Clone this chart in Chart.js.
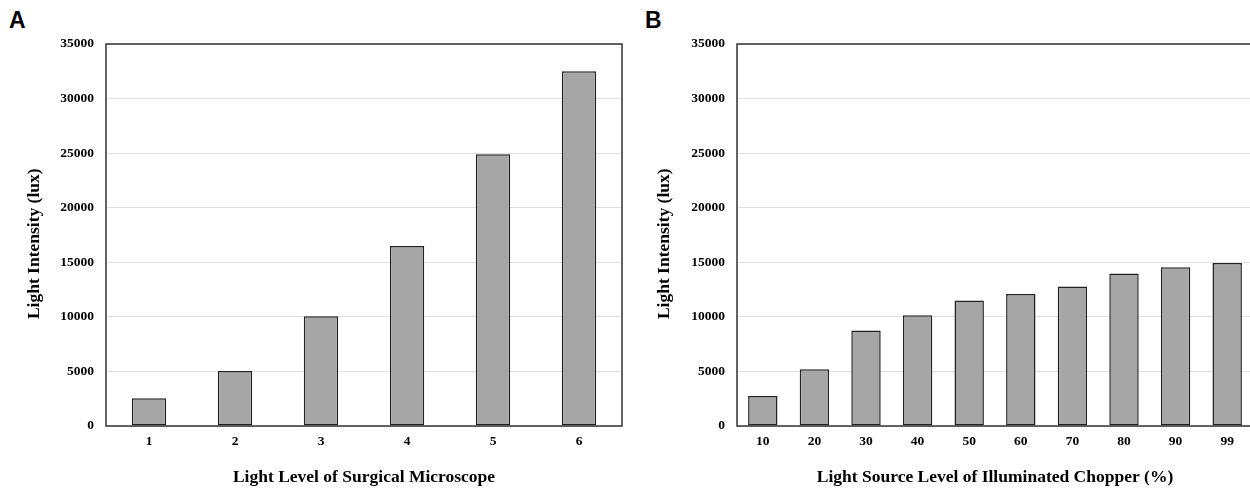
<!DOCTYPE html>
<html>
<head>
<meta charset="utf-8">
<script src="https://cdn.jsdelivr.net/npm/chart.js@4/dist/chart.umd.min.js"></script>
<style>
  html, body { margin: 0; padding: 0; background: #fff; }
  body { width: 1250px; height: 489px; overflow: hidden; position: relative; }
  canvas { position: absolute; top: 0; }
  #cA { left: 0; }
  #cB { left: 630px; }
  .plabel { position: absolute; font: bold 23px "Liberation Sans", Arial, sans-serif; line-height: 23px; color: #000; }
</style>
</head>
<body>
<div class="plabel" style="left:9px; top:9px;">A</div>
<div class="plabel" style="left:645px; top:9px;">B</div>
<canvas id="cA" width="630" height="489"></canvas>
<canvas id="cB" width="640" height="489"></canvas>
<script>
// ---- data ----
const categoriesA = ['1', '2', '3', '4', '5', '6'];
const valuesA = [2550, 5030, 10050, 16500, 24900, 32500];
const categoriesB = ['10', '20', '30', '40', '50', '60', '70', '80', '90', '99'];
const valuesB = [2750, 5200, 8750, 10150, 11500, 12100, 12780, 13980, 14550, 14930];
const yMin = 0, yMax = 35000, yStep = 5000;
const xTitleA = 'Light Level of Surgical Microscope';
const xTitleB = 'Light Source Level of Illuminated Chopper (%)';
const yTitle = 'Light Intensity (lux)';

Chart.defaults.devicePixelRatio = 1;
Chart.defaults.animation = false;

const boxPlugin = {
  id: 'box',
  afterDatasetsDraw(chart) {
    const { ctx, chartArea: a } = chart;
    ctx.save();
    ctx.strokeStyle = '#333';
    ctx.lineWidth = 1.5;
    ctx.strokeRect(a.left, a.top, a.right - a.left, a.bottom - a.top);
    ctx.restore();
  }
};

const tickFont = { family: '"Liberation Serif", "Times New Roman", serif', size: 13.5, weight: 'bold' };
const titleFont = { family: '"Liberation Serif", "Times New Roman", serif', size: 17.5, weight: 'bold' };

function makeChart(id, cats, vals, xTitle, yAxisWidth, rightPad, barPct, yTitlePad) {
  return new Chart(document.getElementById(id), {
    type: 'bar',
    data: {
      labels: cats,
      datasets: [{
        data: vals,
        backgroundColor: '#a6a6a6',
        borderColor: '#222',
        borderWidth: 1.5,
        borderSkipped: false,
        barPercentage: barPct,
        categoryPercentage: 1.0
      }]
    },
    options: {
      responsive: false,
      maintainAspectRatio: false,
      layout: { padding: { top: 44, right: rightPad, left: 0, bottom: 0 } },
      plugins: { legend: { display: false }, tooltip: { enabled: false }, title: { display: false } },
      scales: {
        x: {
          grid: { display: false, drawTicks: false },
          border: { display: false },
          ticks: { color: '#000', font: tickFont, padding: 7, maxRotation: 0 },
          title: { display: true, text: xTitle, color: '#000', font: titleFont, padding: { top: 0, bottom: 1 } },
          afterFit(s) { s.height = 63; }
        },
        y: {
          min: yMin, max: yMax,
          grid: { color: '#e2e2e2', lineWidth: 1, drawTicks: false },
          border: { display: false },
          ticks: { stepSize: yStep, color: '#000', font: tickFont, padding: 12,
                   callback: (v) => String(v) },
          title: { display: true, text: yTitle + '    ', color: '#000', font: titleFont, padding: { top: yTitlePad, bottom: 0 } },
          afterFit(s) { s.width = yAxisWidth; }
        }
      }
    },
    plugins: [boxPlugin]
  });
}

makeChart('cA', categoriesA, valuesA, xTitleA, 106, 8, 0.4, 24);
makeChart('cB', categoriesB, valuesB, xTitleB, 107, 17, 0.57, 24);
</script>
</body>
</html>
